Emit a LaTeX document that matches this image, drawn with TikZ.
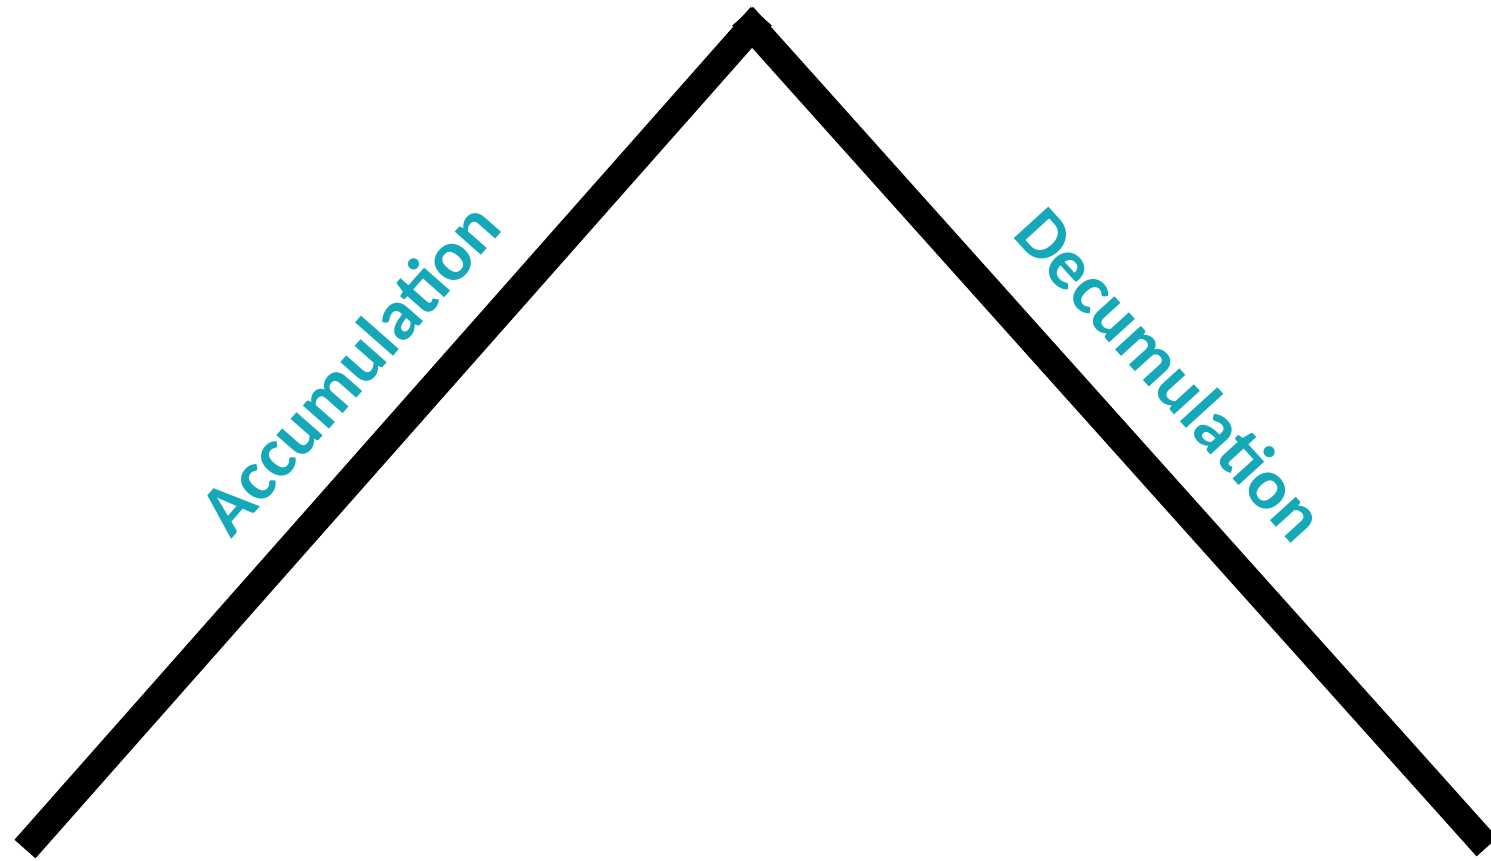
\documentclass[tikz,border=0pt]{standalone}
\usepackage{fontspec}
\newfontfamily\phasefont{Carlito-Bold.ttf}
\usepackage{tikz}
\usetikzlibrary{positioning,calc}
\definecolor{phaseteal}{RGB}{20,168,184}

\begin{document}
\begin{tikzpicture}[
  x=0.02cm, y=-0.02cm,
  phase/.style={line width=0.56cm, line cap=butt},
  phaselabel/.style={text=phaseteal, font=\phasefont\fontsize{41}{49}\selectfont, inner sep=0pt, anchor=base}
]
\useasboundingbox (0,0) rectangle (1491,860);
\coordinate (start) at (25,849);
\coordinate (peak) at (752,26.7);
\coordinate (finish) at (1487,847);
\draw[phase, shorten >=-0.28cm] (start) -- (peak);
\draw[phase, shorten <=-0.28cm] (peak) -- (finish);
\node[phaselabel, rotate=48.6] (accum) at (368,384.5) {Accumulation};
\node[phaselabel, rotate=-47.7] (decum) at (1152.5,390.5) {Decumulation};
\end{tikzpicture}
\end{document}
